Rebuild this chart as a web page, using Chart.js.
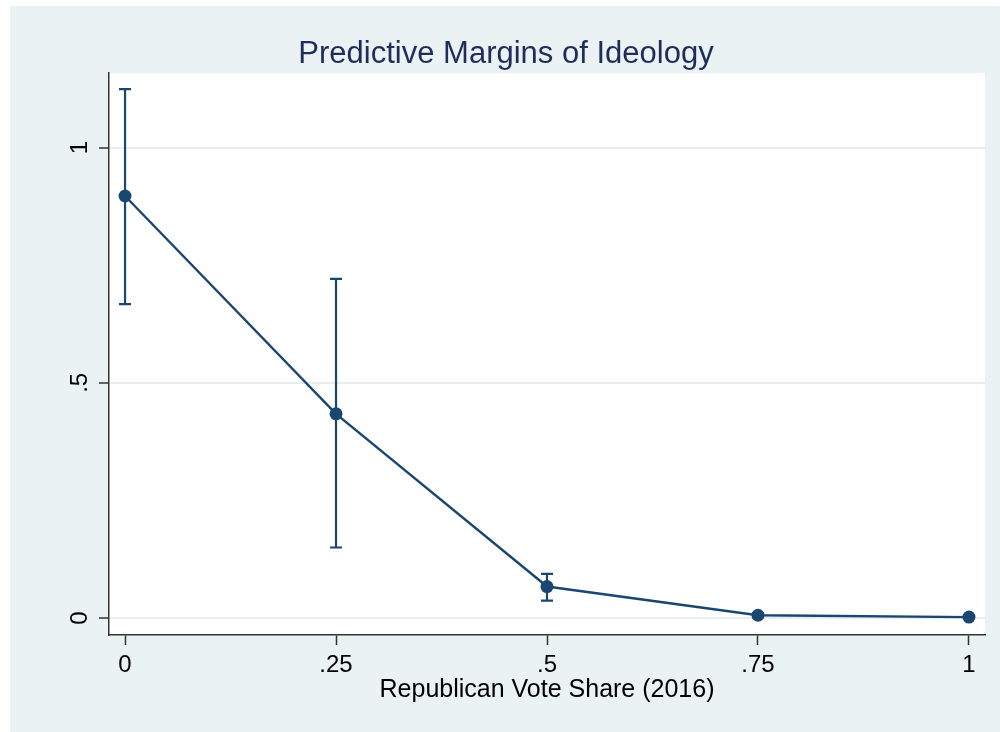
<!DOCTYPE html>
<html>
<head>
<meta charset="utf-8">
<script src="https://cdn.jsdelivr.net/npm/chart.js@4/dist/chart.umd.min.js"></script>
<style>
  body { margin: 0; background: #fff; }
  #wrap { width: 1000px; height: 732px; }
</style>
</head>
<body>
<div id="wrap"><canvas id="chart" width="1000" height="732"></canvas></div>
<script>
// ---- data ----
const voteShare = [0, 0.25, 0.5, 0.75, 1];
const margins   = [0.897, 0.434, 0.067, 0.006, 0.002];
const ciLower   = [0.667, 0.150, 0.037, 0.002, 0.000];
const ciUpper   = [1.124, 0.721, 0.094, 0.010, 0.004];

const xTicks = [0, 0.25, 0.5, 0.75, 1];
const xTickLabels = ["0", ".25", ".5", ".75", "1"];
const yTicks = [0, 0.5, 1];
const yTickLabels = ["0", ".5", "1"];

const NAVY = "#1a476f";
const BG = "#eaf2f3";
const FONT = "'Liberation Sans', Arial, sans-serif";

// background panels (stata style)
const panelBg = {
  id: "panelBg",
  beforeDraw(chart) {
    const { ctx, chartArea: a } = chart;
    ctx.save();
    ctx.fillStyle = "#fff";
    ctx.fillRect(0, 0, chart.width, chart.height);
    ctx.fillStyle = BG;
    ctx.fillRect(10, 6, chart.width - 10, chart.height - 6);
    ctx.fillStyle = "#fff";
    ctx.fillRect(a.left, a.top, a.right - a.left, a.bottom - a.top);
    ctx.restore();
  }
};

// confidence intervals drawn under the line
const errorBars = {
  id: "errorBars",
  beforeDatasetsDraw(chart) {
    const { ctx, scales: { x, y } } = chart;
    ctx.save();
    ctx.strokeStyle = NAVY;
    ctx.lineWidth = 2.2;
    voteShare.forEach((v, i) => {
      const px = x.getPixelForValue(v);
      const lo = y.getPixelForValue(ciLower[i]);
      const hi = y.getPixelForValue(ciUpper[i]);
      ctx.beginPath();
      ctx.moveTo(px, lo); ctx.lineTo(px, hi);
      ctx.moveTo(px - 6, lo); ctx.lineTo(px + 6, lo);
      ctx.moveTo(px - 6, hi); ctx.lineTo(px + 6, hi);
      ctx.stroke();
    });
    ctx.restore();
  }
};

// y tick labels are vertical in the reference
const yLabels = {
  id: "yLabels",
  afterDraw(chart) {
    const { ctx, scales: { y } } = chart;
    ctx.save();
    ctx.fillStyle = "#000";
    ctx.font = "24px " + FONT;
    ctx.textAlign = "center";
    ctx.textBaseline = "middle";
    yTicks.forEach((v, i) => {
      ctx.save();
      ctx.translate(80, y.getPixelForValue(v));
      ctx.rotate(-Math.PI / 2);
      ctx.fillText(yTickLabels[i], 0, 0);
      ctx.restore();
    });
    ctx.restore();
  }
};

new Chart(document.getElementById("chart"), {
  type: "scatter",
  data: {
    datasets: [{
      data: voteShare.map((v, i) => ({ x: v, y: margins[i] })),
      showLine: true,
      borderColor: NAVY,
      backgroundColor: NAVY,
      borderWidth: 2.4,
      pointRadius: 6.5,
      pointBorderWidth: 0
    }]
  },
  options: {
    responsive: false,
    animation: false,
    layout: { padding: { left: 27, right: 15, top: 0, bottom: 0 } },
    plugins: {
      legend: { display: false },
      tooltip: { enabled: false },
      title: {
        display: true,
        text: "Predictive Margins of Ideology",
        color: "#1e2d5c",
        font: { family: FONT, size: 31, weight: "normal" },
        padding: { top: 36, bottom: 0 }
      }
    },
    scales: {
      x: {
        type: "linear",
        min: -0.019,
        max: 1.019,
        afterBuildTicks: s => { s.ticks = xTicks.map(v => ({ value: v })); },
        afterFit: s => { s.height = 97; },
        ticks: {
          callback: v => xTickLabels[xTicks.indexOf(v)],
          color: "#000",
          font: { family: FONT, size: 24 },
          padding: 6,
          maxRotation: 0,
          autoSkip: false
        },
        grid: { drawOnChartArea: false, tickLength: 10, tickColor: "#333", tickWidth: 1.5 },
        border: { color: "#333", width: 1.5 },
        title: {
          display: true,
          text: "Republican Vote Share (2016)",
          color: "#000",
          font: { family: FONT, size: 25 },
          padding: { top: 0, bottom: 27 }
        }
      },
      y: {
        type: "linear",
        min: -0.036,
        max: 1.158,
        afterBuildTicks: s => { s.ticks = yTicks.map(v => ({ value: v })); },
        afterFit: s => { s.width = 82; },
        ticks: { color: "rgba(0,0,0,0)", font: { family: FONT, size: 24 } },
        grid: { color: "#e6eef0", lineWidth: 2, tickLength: 10, tickColor: "#333", tickWidth: 1.5 },
        border: { color: "#333", width: 1.5 }
      }
    }
  },
  plugins: [panelBg, errorBars, yLabels]
});
</script>
</body>
</html>
